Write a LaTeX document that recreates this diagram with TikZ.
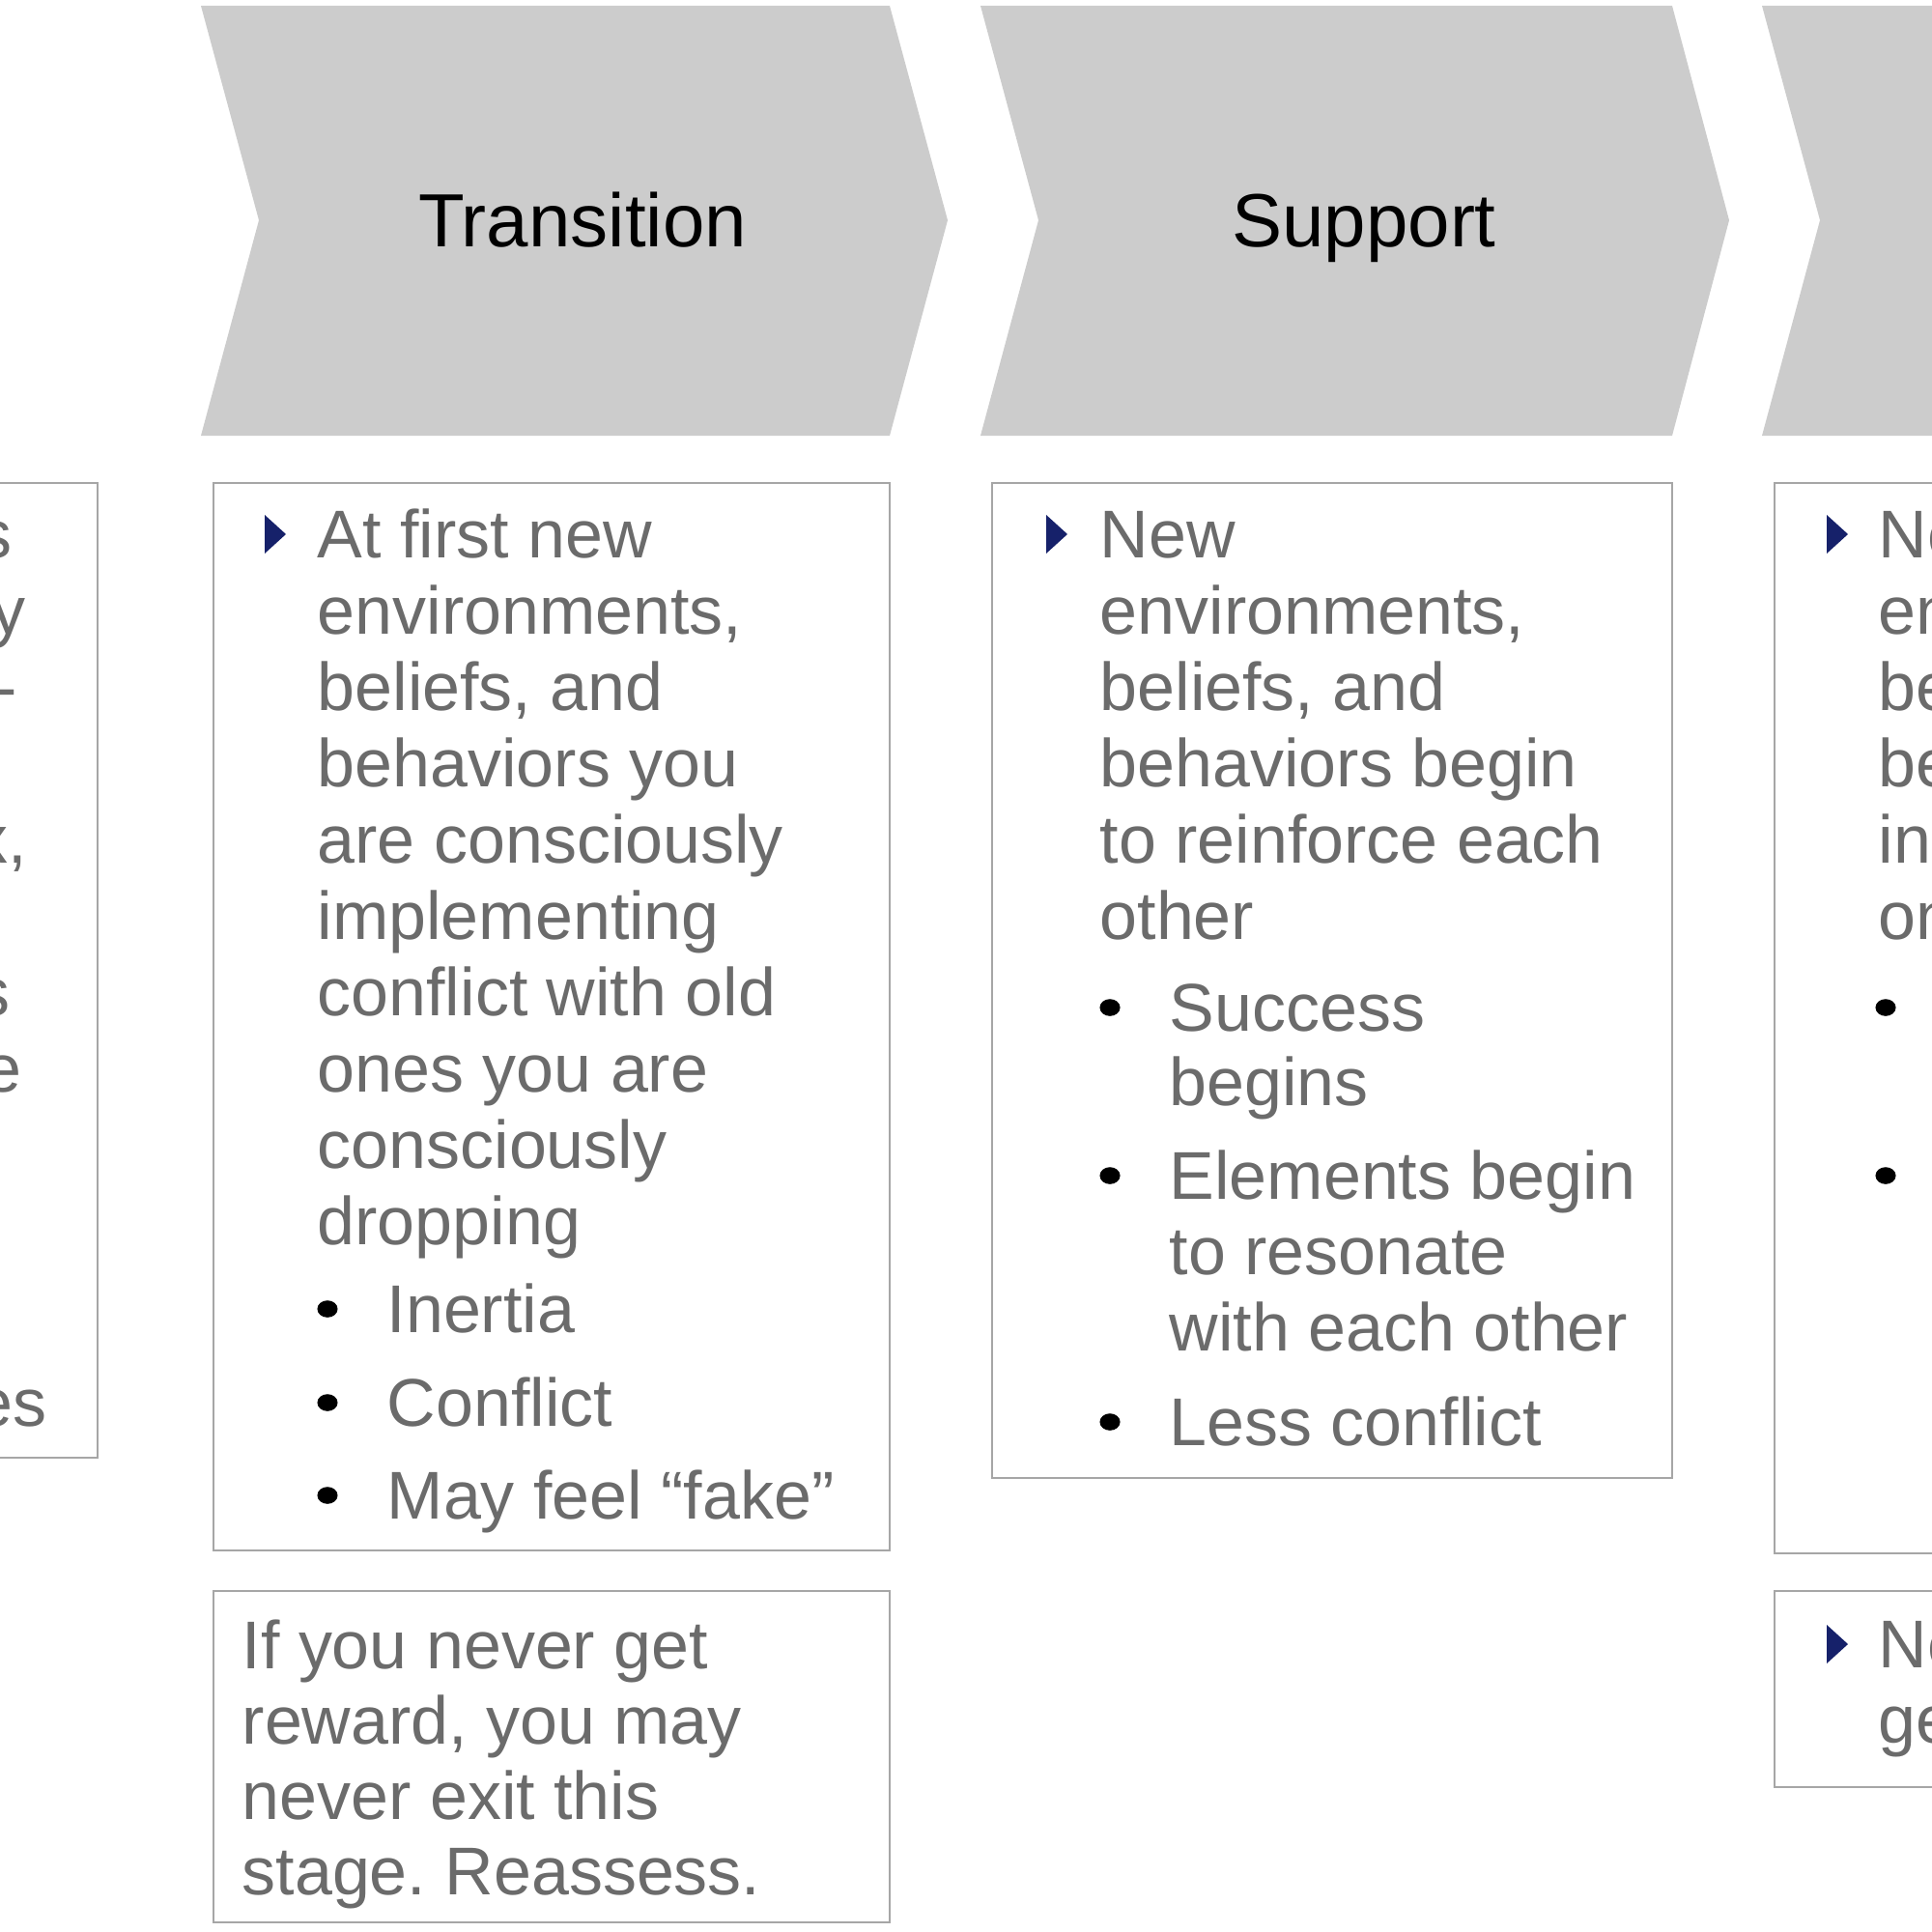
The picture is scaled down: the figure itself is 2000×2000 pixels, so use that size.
\documentclass[tikz,border=0pt]{standalone}
\usepackage{fontspec}
\setmainfont{Liberation Sans}
\definecolor{chev}{HTML}{CCCCCC}
\definecolor{bord}{HTML}{A6A6A6}
\definecolor{txtg}{HTML}{6B6B6B}
\definecolor{navyb}{HTML}{16216A}
\frenchspacing
\begin{document}
\begin{tikzpicture}[x=0.01cm,y=-0.01cm,
  chevfill/.style={fill=chev, draw=none},
  boxst/.style={draw=bord, line width=0.6pt, fill=white},
  body/.style={font=\fontsize{19.9}{22.5}\selectfont, text=txtg, inner sep=0pt, anchor=base west},
  bodyr/.style={font=\fontsize{19.9}{22.5}\selectfont, text=txtg, inner sep=0pt, anchor=base east},
  ttl/.style={font=\fontsize{22.2}{26}\selectfont, text=black, inner sep=0pt, anchor=base},
  arr/.style={fill=navyb, draw=none},
  blt/.style={fill=black, draw=none}]
\useasboundingbox (0,0) rectangle (2000,2000);
\clip (0,0) rectangle (2000,2000);

% chevrons
\fill[chevfill] (208,6) -- (921,6) -- (981,228) -- (921,451) -- (208,451) -- (268,228) -- cycle;
\fill[chevfill] (1015,6) -- (1731,6) -- (1790,228) -- (1731,451) -- (1015,451) -- (1075,228) -- cycle;
\fill[chevfill] (1824,6) -- (2100,6) -- (2100,451) -- (1824,451) -- (1884,228) -- cycle;
\node[ttl] (title1) at (603,255) {Transition};
\node[ttl] (title2) at (1412,255) {Support};

% boxes
\draw[boxst] (-20,500) rectangle (101,1509);
\draw[boxst] (221,500) rectangle (921,1605);
\draw[boxst] (221,1647) rectangle (921,1990);
\draw[boxst] (1027,500) rectangle (1731,1530);
\draw[boxst] (1837,500) rectangle (2100,1608);
\draw[boxst] (1837,1647) rectangle (2100,1850);

% left box fragments
\node[bodyr] (l1) at (13,577) {s};
\node[bodyr] (l2) at (27,656) {y};
\node[bodyr] (l3) at (19,735) {-};
\node[bodyr] (l4) at (29,893) {x,};
\node[bodyr] (l5) at (11,1051) {s};
\node[bodyr] (l6) at (23,1130) {e};
\node[bodyr] (l7) at (49,1476) {es};

% box 1
\fill[arr] (274,533) -- (296,553) -- (274,573) -- cycle;
\foreach \s [count=\i] in {At first new, {environments,}, {beliefs, and}, behaviors you, are consciously, implementing, conflict with old, ones you are, consciously, dropping}
  \node[body, name=a\i] at (328,{577+79*(\i-1)}) {\s};
\foreach \s/\b [count=\i] in {Inertia/1379, Conflict/1476, May feel “fake”/1572}{
  \fill[blt] (339,\b-24) ellipse [x radius=3pt, y radius=2.5pt];
  \node[body, name=as\i] at (400,\b) {\s};
}

% box 1b
\foreach \s [count=\i] in {If you never get, {reward, you may}, never exit this, stage. Reassess.}
  \node[body, name=c\i] at (250,{1727+78*(\i-1)}) {\s};

% box 2
\fill[arr] (1083,533) -- (1105,553) -- (1083,573) -- cycle;
\foreach \s [count=\i] in {New, {environments,}, {beliefs, and}, behaviors begin, to reinforce each, other}
  \node[body, name=b\i] at (1138,{577+79*(\i-1)}) {\s};
\fill[blt] (1149,1043) ellipse [x radius=3pt, y radius=2.5pt];
\fill[blt] (1149,1217) ellipse [x radius=3pt, y radius=2.5pt];
\fill[blt] (1149,1472) ellipse [x radius=3pt, y radius=2.5pt];
\node[body] (bs1) at (1210,1067) {Success};
\node[body] (bs2) at (1210,1144) {begins};
\node[body] (bs3) at (1210,1241) {Elements begin};
\node[body] (bs4) at (1210,1319) {to resonate};
\node[body] (bs5) at (1210,1398) {with each other};
\node[body] (bs6) at (1210,1496) {Less conflict};

% box 3 (cut off)
\fill[arr] (1891,533) -- (1913,553) -- (1891,573) -- cycle;
\foreach \s [count=\i] in {New, {environments,}, {beliefs, and}, behaviors, integrate, one}
  \node[body, name=d\i] at (1944,{577+79*(\i-1)}) {\s};
\fill[blt] (1952,1043) ellipse [x radius=3pt, y radius=2.5pt];
\fill[blt] (1952,1217) ellipse [x radius=3pt, y radius=2.5pt];

% box 3b
\fill[arr] (1891,1682) -- (1913,1702) -- (1891,1722) -- cycle;
\node[body] (e1) at (1944,1726) {New};
\node[body] (e2) at (1944,1804) {get};
\end{tikzpicture}
\end{document}
